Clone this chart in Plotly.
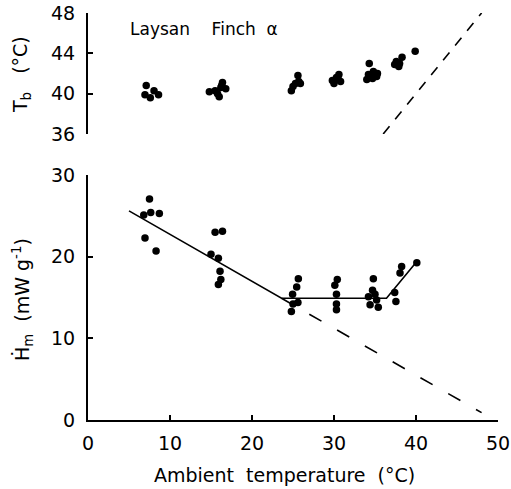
import plotly.graph_objects as go

# ---------------- data ----------------
# Body temperature (top panel)
tb_ta = [7.1, 6.95, 7.6, 8.05, 8.6,
         14.8, 15.5, 15.8, 16.0, 16.2, 16.4, 16.8, 16.3,
         24.8, 25.0, 25.3, 25.7, 25.6, 25.9,
         30.0, 29.8, 30.3, 30.6, 30.8, 30.5,
         34.3, 34.0, 34.2, 34.8, 35.2, 35.3, 34.7,
         38.3, 37.6, 37.4, 37.9, 38.0,
         39.9]
tb_val = [40.8, 39.9, 39.6, 40.3, 39.9,
          40.2, 40.3, 40.0, 39.7, 40.6, 41.1, 40.5, 40.8,
          40.3, 40.7, 41.0, 41.2, 41.8, 41.0,
          41.0, 41.3, 41.6, 41.9, 41.2, 41.5,
          43.0, 41.4, 41.9, 42.2, 41.7, 42.0, 41.5,
          43.6, 43.2, 42.9, 42.7, 43.0,
          44.2]

# Metabolic heat production (bottom panel)
hm_ta = [7.5, 6.8, 7.65, 8.7, 6.95, 8.3,
         15.5, 16.4, 15.0, 15.9, 16.1, 16.2, 15.9,
         25.65, 25.45, 24.95, 25.0, 24.8, 25.6,
         30.4, 30.1, 30.3, 30.3, 30.3,
         34.8, 34.7, 35.0, 34.2, 34.4, 35.2, 35.4,
         38.25, 38.05, 40.1, 37.4, 37.55]
hm_val = [27.05, 25.1, 25.4, 25.3, 22.3, 20.7,
          23.0, 23.1, 20.3, 19.8, 18.2, 17.2, 16.6,
          17.3, 16.3, 15.4, 14.2, 13.3, 14.4,
          17.2, 16.5, 15.4, 14.2, 13.5,
          17.3, 15.9, 15.4, 15.1, 14.1, 14.7, 13.8,
          18.8, 18.0, 19.25, 15.6, 14.5]

# fitted lines
fit_ta = [5.0, 23.6, 36.4, 40.1]
fit_hm = [25.6, 14.9, 14.9, 19.4]
extrap_ta = [23.6, 48.0]
extrap_hm = [14.9, 0.9]
iso_ta = [36.0, 48.0]
iso_tb = [36.0, 48.0]

x_ticks = [0, 10, 20, 30, 40, 50]
tb_ticks = [36, 40, 44, 48]
hm_ticks = [0, 10, 20, 30]

FONT = "DejaVu Sans"
BLACK = "black"
NB = "\u00a0"

fig = go.Figure()

# top panel
fig.add_trace(go.Scatter(x=iso_ta, y=iso_tb, mode="lines", xaxis="x2", yaxis="y2",
                         line=dict(color=BLACK, width=1.6, dash="10px,9px"),
                         showlegend=False, hoverinfo="skip"))
fig.add_trace(go.Scatter(x=tb_ta, y=tb_val, mode="markers", xaxis="x2", yaxis="y2",
                         marker=dict(color=BLACK, size=7.5), showlegend=False))

# bottom panel
fig.add_trace(go.Scatter(x=extrap_ta, y=extrap_hm, mode="lines", xaxis="x", yaxis="y",
                         line=dict(color=BLACK, width=1.6, dash="14px,18px"),
                         showlegend=False, hoverinfo="skip"))
fig.add_trace(go.Scatter(x=fit_ta, y=fit_hm, mode="lines", xaxis="x", yaxis="y",
                         line=dict(color=BLACK, width=1.6),
                         showlegend=False, hoverinfo="skip"))
fig.add_trace(go.Scatter(x=hm_ta, y=hm_val, mode="markers", xaxis="x", yaxis="y",
                         marker=dict(color=BLACK, size=7.5), showlegend=False))

axis_common = dict(showgrid=False, zeroline=False, showline=True, linecolor=BLACK,
                   linewidth=2, ticks="inside", ticklen=5, tickwidth=2, tickcolor=BLACK,
                   automargin=False,
                   tickfont=dict(family=FONT, size=19, color=BLACK))

title_font = dict(family=FONT, size=19, color=BLACK)

fig.update_layout(
    width=511, height=489,
    margin=dict(l=88, r=13, t=13, b=69, autoexpand=False),
    paper_bgcolor="white", plot_bgcolor="white",
    xaxis=dict(domain=[0, 1], range=[0, 50], tickvals=x_ticks, anchor="y",
               ticklabelstandoff=5, **axis_common),
    yaxis=dict(domain=[0, 0.602], range=[0, 30], tickvals=hm_ticks, anchor="x",
               ticklabelstandoff=7, **axis_common),
    xaxis2=dict(domain=[0, 1], range=[0, 50], matches="x", anchor="y2", visible=False),
    yaxis2=dict(domain=[0.7027, 1.0], range=[36, 48], tickvals=tb_ticks, anchor="x2",
                ticklabelstandoff=7, **axis_common),
    annotations=[
        dict(x=4.9, y=46.45, xref="x2", yref="y2", xanchor="left", yanchor="middle",
             text="Laysan" + NB * 4 + "Finch" + NB * 2 + "α", showarrow=False,
             font=dict(family=FONT, size=17, color=BLACK)),
        dict(x=0.48, y=-0.135, xref="paper", yref="paper", xanchor="center", yanchor="middle",
             text="Ambient" + NB * 2 + "temperature" + NB * 2 + "(°C)", showarrow=False,
             font=title_font),
        dict(x=0, y=0.8477, xref="paper", yref="paper", xanchor="center", yanchor="middle",
             xshift=-66, textangle=-90, text="T<sub>b</sub>" + NB * 3 + "(°C)",
             showarrow=False, font=title_font),
        dict(x=0, y=0.2948, xref="paper", yref="paper", xanchor="center", yanchor="middle",
             xshift=-66, textangle=-90,
             text="Ḣ<sub>m</sub>" + NB * 2 + "(mW" + NB + "g<sup>-1</sup>)",
             showarrow=False, font=title_font),
    ],
)

fig.write_html("out.html", config={"displayModeBar": False},
               post_script="document.body.style.margin='0';document.body.style.overflow='hidden';")
